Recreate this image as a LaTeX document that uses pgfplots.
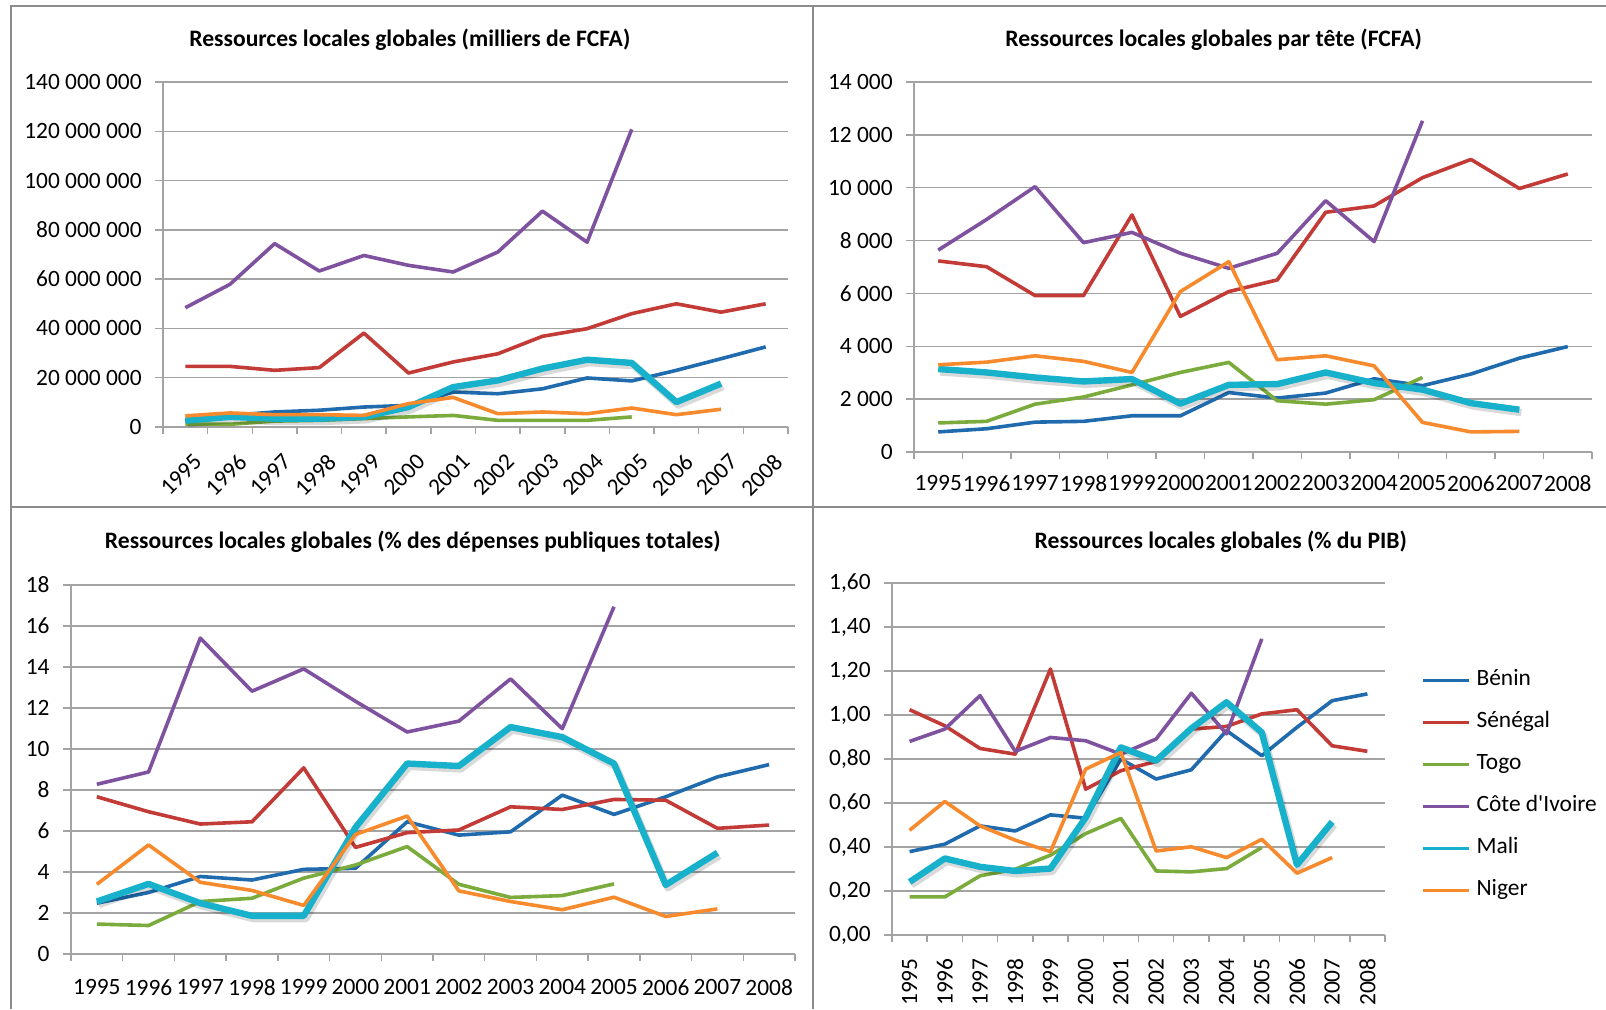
\documentclass[border=0pt]{standalone}
\usepackage{fontspec}
\setmainfont{Carlito}[Ligatures=TeXOff]
\usepackage{pgfplots}
\usepackage{pgfplotstable}
\pgfplotsset{compat=1.18}
\definecolor{cBenin}{HTML}{1F6BAE}
\definecolor{cSen}{HTML}{C23B36}
\definecolor{cTogo}{HTML}{7AAB3C}
\definecolor{cCI}{HTML}{7F52A0}
\definecolor{cMali}{HTML}{18B1CC}
\definecolor{cNiger}{HTML}{F68A2C}
\definecolor{gridc}{HTML}{A3A3A3}
\definecolor{borderc}{HTML}{8C8C8C}

\pgfplotstableread{
x Benin Senegal Togo CI Mali Niger
0 2400000 24600000 1200000 48400000 2600000 4500000
1 4700000 24600000 1100000 57900000 4100000 5700000
2 6100000 23000000 2400000 74400000 3400000 5000000
3 6800000 24100000 2700000 63300000 3400000 5000000
4 8100000 38100000 3400000 69600000 4100000 4700000
5 8800000 21900000 4100000 65600000 8100000 9500000
6 14200000 26400000 4700000 62900000 16200000 12000000
7 13500000 29700000 2700000 71000000 18900000 5400000
8 15500000 36800000 2700000 87600000 23700000 6100000
9 19900000 39900000 2700000 75000000 27300000 5400000
10 18700000 46000000 4100000 120800000 26000000 7700000
11 23000000 50000000 nan nan 10100000 5000000
12 27700000 46600000 nan nan 17600000 7200000
13 32500000 50000000 nan nan nan nan
}\tabA

\pgfplotstableread{
x Benin Senegal Togo CI Mali Niger
0 760 7230 1100 7640 3140 3300
1 880 7010 1160 8800 3010 3400
2 1130 5920 1810 10040 2820 3640
3 1160 5920 2080 7920 2670 3430
4 1370 8970 2540 8310 2760 3010
5 1370 5130 3010 7520 1830 6070
6 2250 6070 3390 6950 2540 7200
7 2040 6510 1940 7520 2570 3490
8 2230 9070 1810 9510 3010 3640
9 2770 9310 1980 7960 2610 3260
10 2510 10380 2820 12530 2360 1120
11 2950 11070 nan nan 1850 760
12 3550 9970 nan nan 1600 780
13 3990 10520 nan nan nan nan
}\tabB

\pgfplotstableread{
x Benin Senegal Togo CI Mali Niger
0 2.48 7.67 1.46 8.28 2.56 3.40
1 3.00 6.94 1.39 8.88 3.42 5.32
2 3.78 6.34 2.56 15.41 2.48 3.50
3 3.61 6.45 2.72 12.82 1.86 3.10
4 4.13 9.08 3.70 13.91 1.86 2.37
5 4.18 5.20 4.34 12.33 6.17 5.83
6 6.45 5.92 5.24 10.83 9.29 6.73
7 5.80 6.05 3.40 11.36 9.17 3.08
8 5.96 7.18 2.76 13.42 11.07 2.56
9 7.75 7.05 2.85 10.99 10.58 2.16
10 6.81 7.54 3.42 16.94 9.29 2.77
11 7.67 7.50 nan nan 3.37 1.83
12 8.64 6.13 nan nan 4.94 2.20
13 9.24 6.29 nan nan nan nan
}\tabC

\pgfplotstableread{
x Benin Senegal Togo CI Mali Niger
0 0.379 1.024 0.173 0.880 0.241 0.476
1 0.413 0.951 0.173 0.936 0.348 0.607
2 0.496 0.848 0.269 1.088 0.310 0.496
3 0.473 0.822 0.299 0.835 0.291 0.431
4 0.546 1.209 0.363 0.898 0.302 0.379
5 0.531 0.663 0.461 0.883 0.534 0.754
6 0.800 0.747 0.530 0.822 0.853 0.830
7 0.709 0.789 0.291 0.891 0.792 0.382
8 0.751 0.936 0.287 1.099 0.939 0.401
9 0.929 0.948 0.302 0.914 1.058 0.352
10 0.815 1.005 0.398 1.346 0.921 0.435
11 0.944 1.024 nan nan 0.319 0.281
12 1.065 0.860 nan nan 0.514 0.352
13 1.096 0.835 nan nan nan nan
}\tabD

\pgfplotsset{
  panel/.style={
    scale only axis, anchor=south west,
    axis lines=left, axis line style={-, draw=gridc, line width=0.75pt},
    xmin=-0.5, xmax=13.5, ymin=0,
    xtick={0,...,13},
    xticklabels={1995,1996,1997,1998,1999,2000,2001,2002,2003,2004,2005,2006,2007,2008},
    minor xtick={-0.5,0.5,...,13.5},
    major x tick style={draw=none},
    tick align=outside,
    major tick length=4pt, minor tick length=3.5pt,
    every tick/.style={draw=gridc, line width=0.75pt},
    ymajorgrids, major grid style={draw=gridc, line width=0.75pt},
    scaled y ticks=false,
    tick label style={font=\fontsize{11.7}{13}\selectfont, text=black},
    yticklabel style={anchor=east, inner sep=0pt, xshift=-6.5pt},
    title style={font=\bfseries\fontsize{11.8}{13}\selectfont, anchor=center},
    every axis plot/.append style={line width=1.8pt, line join=round, mark=none},
    clip=false,
  },
}

\newcommand{\plotall}[1]{%
  \addplot[cBenin] table[x=x,y=Benin]{#1};
  \addplot[cSen] table[x=x,y=Senegal]{#1};
  \addplot[cTogo] table[x=x,y=Togo]{#1};
  \addplot[cCI] table[x=x,y=CI]{#1};
  \addplot[forget plot, black, opacity=0.15, line width=3.6pt, xshift=1pt, yshift=-1.5pt] table[x=x,y=Mali]{#1};
  \addplot[cMali, line width=3.2pt] table[x=x,y=Mali]{#1};
  \addplot[cNiger] table[x=x,y=Niger]{#1};
}

\begin{document}
\begin{tikzpicture}
\path[use as bounding box] (0,0) rectangle (803pt,504.5pt);
\draw[borderc, line width=1.2pt] (5.5pt,0) -- (5.5pt,501.5pt) -- (803pt,501.5pt);
\draw[borderc, line width=1.2pt] (406.5pt,0) -- (406.5pt,501.5pt);
\draw[borderc, line width=1.2pt] (5.5pt,251pt) -- (803pt,251pt);

% Panel 1
\begin{axis}[panel, at={(81.5pt,291pt)}, width=312.5pt, height=172.5pt,
  ymax=140000000,
  ytick={0,20000000,40000000,60000000,80000000,100000000,120000000,140000000},
  yticklabels={0,20~000~000,40~000~000,60~000~000,80~000~000,100~000~000,120~000~000,140~000~000},
  xticklabel style={inner sep=0pt, xshift=3.5pt, yshift=-8.5pt, rotate=45, anchor=north east},
  title={Ressources locales globales (milliers de FCFA)},
  title style={at={(0.395,1)}, yshift=15.1pt},
]
\plotall{\tabA}
\end{axis}

% Panel 2
\begin{axis}[panel, at={(457pt,278.5pt)}, width=339pt, height=185pt,
  ymax=14000,
  ytick={0,2000,4000,6000,8000,10000,12000,14000},
  yticklabels={0,2~000,4~000,6~000,8~000,10~000,12~000,14~000},
  xticklabel style={inner sep=0pt, anchor=north, yshift=-7.5pt},
  title={Ressources locales globales par tête (FCFA)},
  title style={at={(0.442,1)}, yshift=15.1pt},
]
\plotall{\tabB}
\end{axis}

% Panel 3
\begin{axis}[panel, at={(35.5pt,27.5pt)}, width=362pt, height=184.5pt,
  ymax=18,
  ytick={0,2,4,6,8,10,12,14,16,18},
  yticklabels={0,2,4,6,8,10,12,14,16,18},
  xticklabel style={inner sep=0pt, anchor=north, yshift=-8.5pt},
  title={Ressources locales globales (\% des dépenses publiques totales)},
  title style={at={(0.472,1)}, yshift=15.6pt},
]
\plotall{\tabC}
\end{axis}

% Panel 4
\begin{axis}[panel, at={(446pt,37pt)}, width=246.5pt, height=176pt,
  ymax=1.6,
  ytick={0,0.2,0.4,0.6,0.8,1.0,1.2,1.4,1.6},
  yticklabels={{0,00},{0,20},{0,40},{0,60},{0,80},{1,00},{1,20},{1,40},{1,60}},
  xticklabel style={inner sep=0pt, yshift=-7.5pt, rotate=90, anchor=east},
  title={Ressources locales globales (\% du PIB)},
  title style={at={(0.667,1)}, yshift=14.6pt},
  legend style={at={(1.073,0.756)}, anchor=north west, draw=none, fill=none,
    inner sep=0pt, row sep=10pt, column sep=3pt,
    font=\fontsize{11.7}{13}\selectfont,
    nodes={inner sep=0pt, text height=8pt, text depth=3pt}},
  legend cell align=left,
  legend image code/.code={\draw[#1, line width=1.6pt] (0pt,0pt) -- (23pt,0pt);},
]
\plotall{\tabD}
\legend{Bénin,Sénégal,Togo,Côte d'Ivoire,Mali,Niger}
\end{axis}
\end{tikzpicture}
\end{document}
